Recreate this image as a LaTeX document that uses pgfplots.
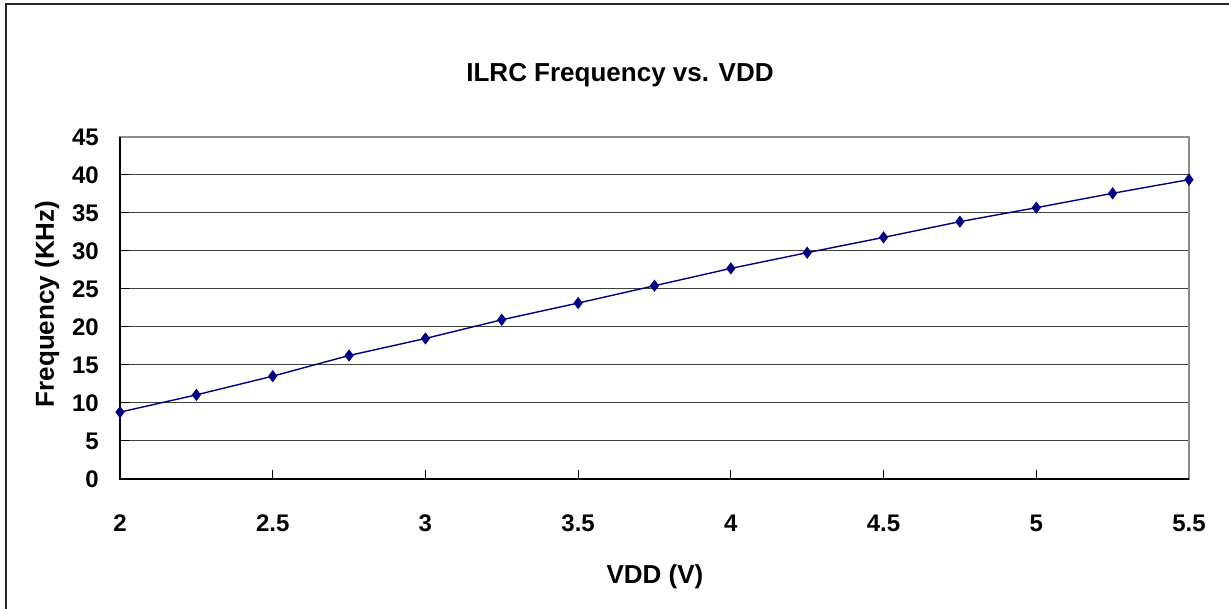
\documentclass[border=0pt]{standalone}
\usepackage{fontspec}
\setmainfont{Liberation Sans}
\usepackage{pgfplots}
\pgfplotsset{compat=1.18}
\definecolor{navyline}{RGB}{0,0,128}
\begin{document}
\begin{tikzpicture}
\useasboundingbox (-120bp,-130bp) rectangle (1109bp,479bp);
\draw[line width=1.4bp, black!85] (-114bp,-135bp) -- (-114bp,475bp) -- (1115bp,475bp);
\begin{axis}[
  at={(0,0)}, anchor=south west,
  width=1069bp, height=342bp, scale only axis=true,
  xmin=2, xmax=5.5, ymin=0, ymax=45,
  xtick={2,2.5,...,5.5},
  ytick={0,5,...,45},
  xticklabels={2,2.5,3,3.5,4,4.5,5,5.5},
  yticklabels={0,5,10,15,20,25,30,35,40,45},
  xtick pos=bottom, ytick pos=left,
  tick align=inside,
  major tick length=9bp,
  tick style={black, line width=1bp},
  ymajorgrids=true,
  major grid style={black!75, line width=1bp},
  axis line style={draw=black!45, line width=1.2bp},
  tick label style={font=\fontsize{24bp}{28bp}\selectfont\bfseries, inner sep=0pt},
  xticklabel style={anchor=north, yshift=-36bp},
  yticklabel style={anchor=east, xshift=-21bp},
  clip=false,
]
\addplot[color=navyline, line width=1.4bp, mark=diamond*, mark size=5bp, mark options={fill=navyline, draw=navyline}]
coordinates {
(2,8.8) (2.25,11.07) (2.5,13.53) (2.75,16.25) (3,18.49) (3.25,20.95)
(3.5,23.15) (3.75,25.43) (4,27.71) (4.25,29.78) (4.5,31.79) (4.75,33.86)
(5,35.70) (5.25,37.59) (5.5,39.39)
};
\draw[black, line width=1.4bp] (rel axis cs:0,1) -- (rel axis cs:0,0) -- (rel axis cs:1,0);
\end{axis}
\node[anchor=base, font=\fontsize{26bp}{30bp}\selectfont\bfseries, inner sep=0pt] at (500bp,397bp) {ILRC Frequency vs. VDD};
\node[anchor=base, font=\fontsize{26bp}{30bp}\selectfont\bfseries, inner sep=0pt] at (535bp,-104bp) {VDD (V)};
\node[anchor=base, rotate=90, font=\fontsize{26bp}{30bp}\selectfont\bfseries, inner sep=0pt] at (-66bp,175bp) {Frequency (KHz)};
\end{tikzpicture}
\end{document}
